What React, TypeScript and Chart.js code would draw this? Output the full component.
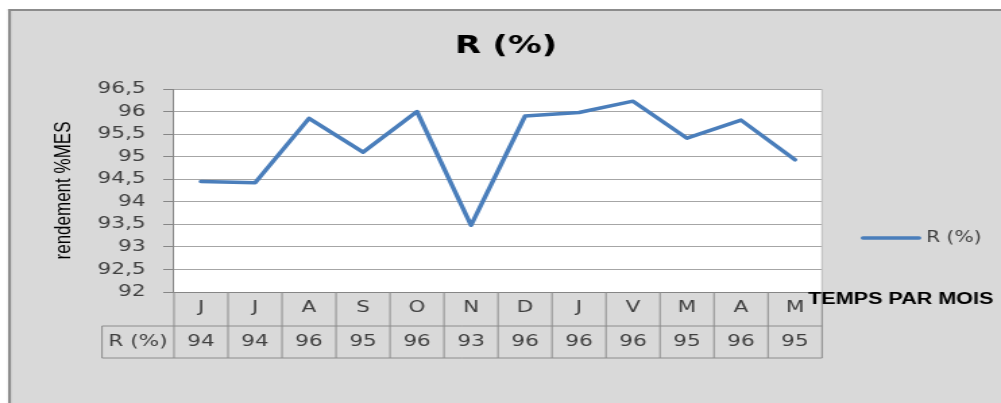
import React, { useEffect, useRef } from "react";
import { Chart, registerables } from "chart.js";

Chart.register(...registerables);

// ---- data ----
const months = ["J", "J", "A", "S", "O", "N", "D", "J", "V", "M", "A", "M"];
const rValues = [94.45, 94.42, 95.85, 95.1, 96.0, 93.48, 95.9, 95.98, 96.23, 95.41, 95.81, 94.93];
const tableValues = ["94", "94", "96", "95", "96", "93", "96", "96", "96", "95", "96", "95"];
const seriesName = "R (%)";
const chartTitle = "R (%)";
const yAxisTitle = "rendement %MES";
const xAxisTitle = "TEMPS PAR MOIS";
const yMin = 92;
const yMax = 96.5;
const yStep = 0.5;

// ---- geometry (internal canvas is stretched horizontally by CSS, like the reference) ----
const DISPLAY_W = 1001;
const DISPLAY_H = 403;
const W = 742;
const S = DISPLAY_W / W;
const dx = (v: number) => v / S;

const PLOT_LEFT = dx(174);
const PLOT_RIGHT = dx(822);
const PLOT_TOP = 89;
const PLOT_BOTTOM = 292;
const ROW1_BOTTOM = 326;
const ROW2_BOTTOM = 358;
const TABLE_LEFT = dx(102);

const BLUE = "#4a7ebb";
const TEXT = "#404040";

const decor = {
  id: "decor",
  beforeDraw(chart: any) {
    const { ctx, chartArea: ca, width, height } = chart;
    ctx.save();
    ctx.fillStyle = "#ffffff";
    ctx.fillRect(0, 0, width, height);
    const fx = dx(8);
    const fy = 9;
    ctx.fillStyle = "#d9d9d9";
    ctx.fillRect(fx, fy, width - fx, height - fy);
    ctx.fillStyle = "#8c8c8c";
    ctx.fillRect(fx, fy, width - fx, 2);
    ctx.fillRect(fx, fy, dx(3), height - fy);
    ctx.fillStyle = "#ffffff";
    ctx.fillRect(ca.left, ca.top, ca.right - ca.left, ca.bottom - ca.top);
    ctx.restore();
  },
  afterDraw(chart: any) {
    const { ctx, chartArea: ca } = chart;
    const xs = chart.scales.x;
    ctx.save();
    // plot right edge
    ctx.strokeStyle = "#bfbfbf";
    ctx.lineWidth = 1;
    ctx.beginPath();
    ctx.moveTo(ca.right, ca.top);
    ctx.lineTo(ca.right, ca.bottom);
    ctx.stroke();

    // data table
    const half = (xs.getPixelForValue(1) - xs.getPixelForValue(0)) / 2;
    ctx.strokeStyle = "#8c8c8c";
    ctx.lineWidth = 1;
    ctx.beginPath();
    for (let i = 0; i <= months.length; i++) {
      const x = i < months.length ? xs.getPixelForValue(i) - half : xs.getPixelForValue(months.length - 1) + half;
      ctx.moveTo(x, ca.bottom);
      ctx.lineTo(x, ROW2_BOTTOM);
    }
    ctx.moveTo(TABLE_LEFT, ROW1_BOTTOM);
    ctx.lineTo(ca.right, ROW1_BOTTOM);
    ctx.moveTo(TABLE_LEFT, ROW2_BOTTOM);
    ctx.lineTo(ca.right, ROW2_BOTTOM);
    ctx.moveTo(TABLE_LEFT, ROW1_BOTTOM);
    ctx.lineTo(TABLE_LEFT, ROW2_BOTTOM);
    ctx.stroke();

    ctx.fillStyle = TEXT;
    ctx.font = "16px 'DejaVu Sans'";
    ctx.textAlign = "center";
    ctx.textBaseline = "middle";
    const rowY = (ROW1_BOTTOM + ROW2_BOTTOM) / 2;
    tableValues.forEach((t, i) => {
      ctx.fillText(t, xs.getPixelForValue(i), rowY);
    });
    ctx.fillText(seriesName, (TABLE_LEFT + ca.left) / 2, rowY);

    // chart title
    ctx.fillStyle = "#000000";
    ctx.font = "bold 25px 'DejaVu Sans'";
    ctx.fillText(chartTitle, dx(506), 46);

    // x axis title
    ctx.font = "bold 16px 'Liberation Sans'";
    ctx.textAlign = "left";
    ctx.fillText(xAxisTitle, dx(808), 300);

    // legend
    ctx.strokeStyle = BLUE;
    ctx.lineWidth = 3.5;
    ctx.lineCap = "round";
    ctx.beginPath();
    ctx.moveTo(dx(863), 238);
    ctx.lineTo(dx(919), 238);
    ctx.stroke();
    ctx.fillStyle = TEXT;
    ctx.font = "15px 'DejaVu Sans'";
    ctx.fillText(seriesName, dx(926), 238);
    ctx.restore();
  },
};

export default function App() {
  const ref = useRef<HTMLCanvasElement | null>(null);
  useEffect(() => {
    if (!ref.current) return;
    const chart = new Chart(ref.current, {
      type: "line",
      data: {
        labels: months,
        datasets: [
          {
            label: seriesName,
            data: rValues,
            borderColor: BLUE,
            backgroundColor: BLUE,
            borderWidth: 3.5,
            pointRadius: 0,
            tension: 0,
            borderJoinStyle: "round",
            borderCapStyle: "round",
          },
        ],
      },
      options: {
        responsive: false,
        devicePixelRatio: 1,
        animation: false,
        layout: { padding: { left: 0, top: PLOT_TOP, right: W - PLOT_RIGHT, bottom: 0 } },
        plugins: {
          legend: { display: false },
          title: { display: false },
          tooltip: { enabled: false },
        },
        scales: {
          x: {
            type: "category",
            offset: true,
            grid: { display: false, drawTicks: false },
            border: { display: true, color: "#868686", width: 1 },
            ticks: {
              color: TEXT,
              font: { family: "'DejaVu Sans'", size: 16 },
              padding: 6,
              maxRotation: 0,
              autoSkip: false,
            },
            afterFit: (scale: any) => {
              scale.height = DISPLAY_H - PLOT_BOTTOM;
            },
          },
          y: {
            min: yMin,
            max: yMax,
            grid: { color: "#a6a6a6", lineWidth: 1, tickLength: 8, tickColor: "#868686", drawTicks: true },
            border: { display: true, color: "#868686", width: 1 },
            ticks: {
              stepSize: yStep,
              color: TEXT,
              font: { family: "'DejaVu Sans'", size: 16 },
              padding: 13,
              callback: (v: any) => String(v).replace(".", ","),
            },
            title: {
              display: true,
              text: yAxisTitle,
              color: "#000000",
              font: { family: "'Liberation Sans'", size: 17 },
              padding: { top: 37, bottom: 0 },
            },
            afterFit: (scale: any) => {
              scale.width = PLOT_LEFT;
            },
          },
        },
      },
      plugins: [decor],
    });
    return () => chart.destroy();
  }, []);
  return (
    <div style={{ position: "fixed", left: 0, top: 0, width: DISPLAY_W, height: DISPLAY_H }}>
      <canvas
        ref={ref}
        width={W}
        height={DISPLAY_H}
        style={{ width: DISPLAY_W + "px", height: DISPLAY_H + "px", display: "block" }}
      />
    </div>
  );
}
